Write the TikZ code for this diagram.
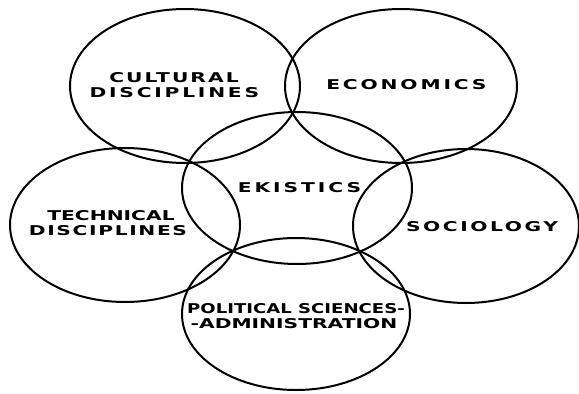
\documentclass[tikz,border=0pt]{standalone}
\usepackage{fontspec}
\usepackage{graphicx}
\newfontfamily\lblfont{DejaVu Sans}
\newcommand\lbl[3]{\scalebox{#1}[1]{\addfontfeatures{LetterSpace=#2}#3}}
\tikzset{
  ring/.style={draw=black, line width=2pt},
  txt/.style={inner sep=0pt, anchor=base, font=\lblfont\bfseries\fontsize{13.5}{15}\selectfont}
}
\begin{document}
\begin{tikzpicture}[x=1pt,y=-1pt]
\useasboundingbox (0,0) rectangle (579,394);
\draw[ring] (185,86) ellipse [x radius=115, y radius=77];
\draw[ring] (401,86) ellipse [x radius=116, y radius=77];
\draw[ring] (297,188) ellipse [x radius=115, y radius=76];
\draw[ring] (125,225) ellipse [x radius=115, y radius=77];
\draw[ring] (466,226) ellipse [x radius=113, y radius=77];
\draw[ring] (296,314) ellipse [x radius=114, y radius=76];
\node[txt] (cul1) at (174,82) {\lbl{1.5}{10}{CULTURAL}};
\node[txt] (cul2) at (174.4,97.5) {\lbl{1.5}{13.6}{DISCIPLINES}};
\node[txt] (eco) at (406.4,89.5) {\lbl{1.5}{14}{ECONOMICS}};
\node[txt] (eki) at (299.5,192.5) {\lbl{1.5}{14.5}{EKISTICS}};
\node[txt] (tec1) at (111,220.5) {\lbl{1.5}{0}{TECHNICAL}};
\node[txt] (tec2) at (108,235.5) {\lbl{1.5}{8}{DISCIPLINES}};
\node[txt] (soc) at (482,231.5) {\lbl{1.5}{12.5}{SOCIOLOGY}};
\node[txt] (pol1) at (296,313.5) {\lbl{1.34}{0}{POLITICAL SCIENCES-}};
\node[txt] (pol2) at (294,328.5) {\lbl{1.5}{0}{-ADMINISTRATION}};
\end{tikzpicture}
\end{document}
